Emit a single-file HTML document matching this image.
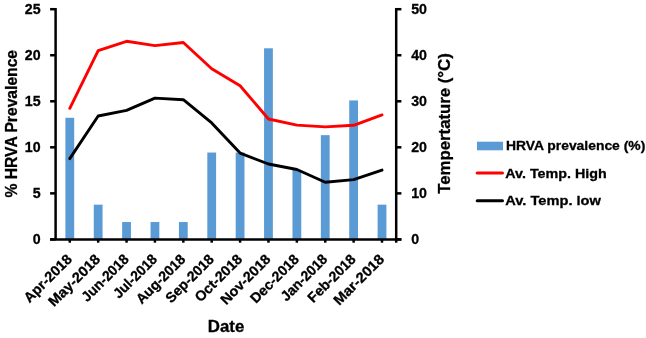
<!DOCTYPE html>
<html><head><meta charset="utf-8"><style>
html,body{margin:0;padding:0;background:#fff;width:646px;height:338px;overflow:hidden}
svg{display:block;will-change:transform}
</style></head><body>
<svg width="646" height="338" viewBox="0 0 646 338">
<rect width="646" height="338" fill="#fff"/>
<rect x="65.39" y="117.78" width="8.8" height="121.62" fill="#5B9BD5"/>
<rect x="93.77" y="204.65" width="8.8" height="34.75" fill="#5B9BD5"/>
<rect x="122.16" y="222.03" width="8.8" height="17.37" fill="#5B9BD5"/>
<rect x="150.54" y="222.03" width="8.8" height="17.37" fill="#5B9BD5"/>
<rect x="178.92" y="222.03" width="8.8" height="17.37" fill="#5B9BD5"/>
<rect x="207.31" y="152.53" width="8.8" height="86.87" fill="#5B9BD5"/>
<rect x="235.69" y="152.53" width="8.8" height="86.87" fill="#5B9BD5"/>
<rect x="264.07" y="48.29" width="8.8" height="191.11" fill="#5B9BD5"/>
<rect x="292.46" y="169.91" width="8.8" height="69.49" fill="#5B9BD5"/>
<rect x="320.84" y="135.16" width="8.8" height="104.24" fill="#5B9BD5"/>
<rect x="349.23" y="100.41" width="8.8" height="138.99" fill="#5B9BD5"/>
<rect x="377.61" y="204.65" width="8.8" height="34.75" fill="#5B9BD5"/>
<g stroke="#000" stroke-width="2.5" fill="none">
<line x1="55.6" y1="8.05" x2="55.6" y2="239.4"/>
<line x1="396.2" y1="8.05" x2="396.2" y2="242.70"/>
<line x1="50.1" y1="239.4" x2="401.4" y2="239.4"/>
<line x1="50.1" y1="239.40" x2="55.6" y2="239.40"/>
<line x1="396.2" y1="239.40" x2="401.4" y2="239.40"/>
<line x1="50.1" y1="193.36" x2="55.6" y2="193.36"/>
<line x1="396.2" y1="193.36" x2="401.4" y2="193.36"/>
<line x1="50.1" y1="147.32" x2="55.6" y2="147.32"/>
<line x1="396.2" y1="147.32" x2="401.4" y2="147.32"/>
<line x1="50.1" y1="101.28" x2="55.6" y2="101.28"/>
<line x1="396.2" y1="101.28" x2="401.4" y2="101.28"/>
<line x1="50.1" y1="55.24" x2="55.6" y2="55.24"/>
<line x1="396.2" y1="55.24" x2="401.4" y2="55.24"/>
<line x1="50.1" y1="9.20" x2="55.6" y2="9.20"/>
<line x1="396.2" y1="9.20" x2="401.4" y2="9.20"/>
<line x1="69.79" y1="239.4" x2="69.79" y2="242.70"/>
<line x1="98.17" y1="239.4" x2="98.17" y2="242.70"/>
<line x1="126.56" y1="239.4" x2="126.56" y2="242.70"/>
<line x1="154.94" y1="239.4" x2="154.94" y2="242.70"/>
<line x1="183.32" y1="239.4" x2="183.32" y2="242.70"/>
<line x1="211.71" y1="239.4" x2="211.71" y2="242.70"/>
<line x1="240.09" y1="239.4" x2="240.09" y2="242.70"/>
<line x1="268.47" y1="239.4" x2="268.47" y2="242.70"/>
<line x1="296.86" y1="239.4" x2="296.86" y2="242.70"/>
<line x1="325.24" y1="239.4" x2="325.24" y2="242.70"/>
<line x1="353.62" y1="239.4" x2="353.62" y2="242.70"/>
<line x1="382.01" y1="239.4" x2="382.01" y2="242.70"/>
</g>
<polyline points="69.79,108.30 98.17,50.60 126.56,41.30 154.94,45.60 183.32,42.50 211.71,68.70 240.09,85.70 268.47,119.00 296.86,125.10 325.24,126.90 353.62,125.30 382.01,114.90" fill="none" stroke="#FF0000" stroke-width="2.9" stroke-linejoin="round" stroke-linecap="round"/>
<polyline points="69.79,158.60 98.17,116.00 126.56,110.30 154.94,98.10 183.32,99.70 211.71,122.90 240.09,153.10 268.47,164.00 296.86,169.50 325.24,182.30 353.62,179.60 382.01,170.10" fill="none" stroke="#000" stroke-width="2.9" stroke-linejoin="round" stroke-linecap="round"/>
<text x="40.6" y="244.15" font-family="&quot;Liberation Sans&quot;, sans-serif" font-weight="bold" stroke="#000" stroke-width="0.3" font-size="15.2" text-anchor="end" textLength="7.9" lengthAdjust="spacingAndGlyphs">0</text>
<text x="411.2" y="244.15" font-family="&quot;Liberation Sans&quot;, sans-serif" font-weight="bold" stroke="#000" stroke-width="0.3" font-size="15.2" textLength="7.9" lengthAdjust="spacingAndGlyphs">0</text>
<text x="40.6" y="198.11" font-family="&quot;Liberation Sans&quot;, sans-serif" font-weight="bold" stroke="#000" stroke-width="0.3" font-size="15.2" text-anchor="end" textLength="7.9" lengthAdjust="spacingAndGlyphs">5</text>
<text x="411.2" y="198.11" font-family="&quot;Liberation Sans&quot;, sans-serif" font-weight="bold" stroke="#000" stroke-width="0.3" font-size="15.2" textLength="15.8" lengthAdjust="spacingAndGlyphs">10</text>
<text x="40.6" y="152.07" font-family="&quot;Liberation Sans&quot;, sans-serif" font-weight="bold" stroke="#000" stroke-width="0.3" font-size="15.2" text-anchor="end" textLength="15.8" lengthAdjust="spacingAndGlyphs">10</text>
<text x="411.2" y="152.07" font-family="&quot;Liberation Sans&quot;, sans-serif" font-weight="bold" stroke="#000" stroke-width="0.3" font-size="15.2" textLength="15.8" lengthAdjust="spacingAndGlyphs">20</text>
<text x="40.6" y="106.03" font-family="&quot;Liberation Sans&quot;, sans-serif" font-weight="bold" stroke="#000" stroke-width="0.3" font-size="15.2" text-anchor="end" textLength="15.8" lengthAdjust="spacingAndGlyphs">15</text>
<text x="411.2" y="106.03" font-family="&quot;Liberation Sans&quot;, sans-serif" font-weight="bold" stroke="#000" stroke-width="0.3" font-size="15.2" textLength="15.8" lengthAdjust="spacingAndGlyphs">30</text>
<text x="40.6" y="59.99" font-family="&quot;Liberation Sans&quot;, sans-serif" font-weight="bold" stroke="#000" stroke-width="0.3" font-size="15.2" text-anchor="end" textLength="15.8" lengthAdjust="spacingAndGlyphs">20</text>
<text x="411.2" y="59.99" font-family="&quot;Liberation Sans&quot;, sans-serif" font-weight="bold" stroke="#000" stroke-width="0.3" font-size="15.2" textLength="15.8" lengthAdjust="spacingAndGlyphs">40</text>
<text x="40.6" y="13.95" font-family="&quot;Liberation Sans&quot;, sans-serif" font-weight="bold" stroke="#000" stroke-width="0.3" font-size="15.2" text-anchor="end" textLength="15.8" lengthAdjust="spacingAndGlyphs">25</text>
<text x="411.2" y="13.95" font-family="&quot;Liberation Sans&quot;, sans-serif" font-weight="bold" stroke="#000" stroke-width="0.3" font-size="15.2" textLength="15.8" lengthAdjust="spacingAndGlyphs">50</text>
<text transform="translate(16.9,123.7) rotate(-90)" font-family="&quot;Liberation Sans&quot;, sans-serif" font-weight="bold" stroke="#000" stroke-width="0.3" font-size="16.6" text-anchor="middle" textLength="147.5" lengthAdjust="spacingAndGlyphs">% HRVA Prevalence</text>
<text transform="translate(449.6,123.5) rotate(-90)" font-family="&quot;Liberation Sans&quot;, sans-serif" font-weight="bold" stroke="#000" stroke-width="0.3" font-size="16.4" text-anchor="middle" textLength="140.5" lengthAdjust="spacingAndGlyphs">Tempertature (°C)</text>
<text x="226" y="331.6" font-family="&quot;Liberation Sans&quot;, sans-serif" font-weight="bold" stroke="#000" stroke-width="0.3" font-size="17" text-anchor="middle" textLength="36.5" lengthAdjust="spacingAndGlyphs">Date</text>
<text transform="translate(69.29,256.6) rotate(-45)" font-family="&quot;Liberation Sans&quot;, sans-serif" font-weight="bold" stroke="#000" stroke-width="0.3" font-size="14.2" text-anchor="end" dominant-baseline="central" textLength="61.3" lengthAdjust="spacingAndGlyphs">Apr-2018</text>
<text transform="translate(97.67,256.6) rotate(-45)" font-family="&quot;Liberation Sans&quot;, sans-serif" font-weight="bold" stroke="#000" stroke-width="0.3" font-size="14.2" text-anchor="end" dominant-baseline="central" textLength="66.8" lengthAdjust="spacingAndGlyphs">May-2018</text>
<text transform="translate(126.06,256.6) rotate(-45)" font-family="&quot;Liberation Sans&quot;, sans-serif" font-weight="bold" stroke="#000" stroke-width="0.3" font-size="14.2" text-anchor="end" dominant-baseline="central" textLength="59.8" lengthAdjust="spacingAndGlyphs">Jun-2018</text>
<text transform="translate(154.44,256.6) rotate(-45)" font-family="&quot;Liberation Sans&quot;, sans-serif" font-weight="bold" stroke="#000" stroke-width="0.3" font-size="14.2" text-anchor="end" dominant-baseline="central" textLength="55.2" lengthAdjust="spacingAndGlyphs">Jul-2018</text>
<text transform="translate(182.82,256.6) rotate(-45)" font-family="&quot;Liberation Sans&quot;, sans-serif" font-weight="bold" stroke="#000" stroke-width="0.3" font-size="14.2" text-anchor="end" dominant-baseline="central" textLength="63.2" lengthAdjust="spacingAndGlyphs">Aug-2018</text>
<text transform="translate(211.21,256.6) rotate(-45)" font-family="&quot;Liberation Sans&quot;, sans-serif" font-weight="bold" stroke="#000" stroke-width="0.3" font-size="14.2" text-anchor="end" dominant-baseline="central" textLength="61.6" lengthAdjust="spacingAndGlyphs">Sep-2018</text>
<text transform="translate(239.59,256.6) rotate(-45)" font-family="&quot;Liberation Sans&quot;, sans-serif" font-weight="bold" stroke="#000" stroke-width="0.3" font-size="14.2" text-anchor="end" dominant-baseline="central" textLength="60.4" lengthAdjust="spacingAndGlyphs">Oct-2018</text>
<text transform="translate(267.97,256.6) rotate(-45)" font-family="&quot;Liberation Sans&quot;, sans-serif" font-weight="bold" stroke="#000" stroke-width="0.3" font-size="14.2" text-anchor="end" dominant-baseline="central" textLength="64.1" lengthAdjust="spacingAndGlyphs">Nov-2018</text>
<text transform="translate(296.36,256.6) rotate(-45)" font-family="&quot;Liberation Sans&quot;, sans-serif" font-weight="bold" stroke="#000" stroke-width="0.3" font-size="14.2" text-anchor="end" dominant-baseline="central" textLength="62.2" lengthAdjust="spacingAndGlyphs">Dec-2018</text>
<text transform="translate(324.74,256.6) rotate(-45)" font-family="&quot;Liberation Sans&quot;, sans-serif" font-weight="bold" stroke="#000" stroke-width="0.3" font-size="14.2" text-anchor="end" dominant-baseline="central" textLength="59.1" lengthAdjust="spacingAndGlyphs">Jan-2018</text>
<text transform="translate(353.12,256.6) rotate(-45)" font-family="&quot;Liberation Sans&quot;, sans-serif" font-weight="bold" stroke="#000" stroke-width="0.3" font-size="14.2" text-anchor="end" dominant-baseline="central" textLength="61.3" lengthAdjust="spacingAndGlyphs">Feb-2018</text>
<text transform="translate(381.51,256.6) rotate(-45)" font-family="&quot;Liberation Sans&quot;, sans-serif" font-weight="bold" stroke="#000" stroke-width="0.3" font-size="14.2" text-anchor="end" dominant-baseline="central" textLength="64.9" lengthAdjust="spacingAndGlyphs">Mar-2018</text>
<rect x="477" y="141.7" width="26" height="8.6" fill="#5B9BD5"/>
<line x1="477.2" y1="173.05" x2="502.5" y2="173.05" stroke="#FF0000" stroke-width="3" stroke-linecap="round"/>
<line x1="477.2" y1="200.7" x2="502.5" y2="200.7" stroke="#000" stroke-width="3" stroke-linecap="round"/>
<text x="505.9" y="150.4" font-family="&quot;Liberation Sans&quot;, sans-serif" font-weight="bold" stroke="#000" stroke-width="0.3" font-size="13.6" textLength="139.4" lengthAdjust="spacingAndGlyphs">HRVA prevalence (%)</text>
<text x="505.3" y="177.6" font-family="&quot;Liberation Sans&quot;, sans-serif" font-weight="bold" stroke="#000" stroke-width="0.3" font-size="13.6" textLength="101.4" lengthAdjust="spacingAndGlyphs">Av. Temp. High</text>
<text x="505.3" y="204.8" font-family="&quot;Liberation Sans&quot;, sans-serif" font-weight="bold" stroke="#000" stroke-width="0.3" font-size="13.6" textLength="95.6" lengthAdjust="spacingAndGlyphs">Av. Temp. low</text>
</svg>
</body></html>
